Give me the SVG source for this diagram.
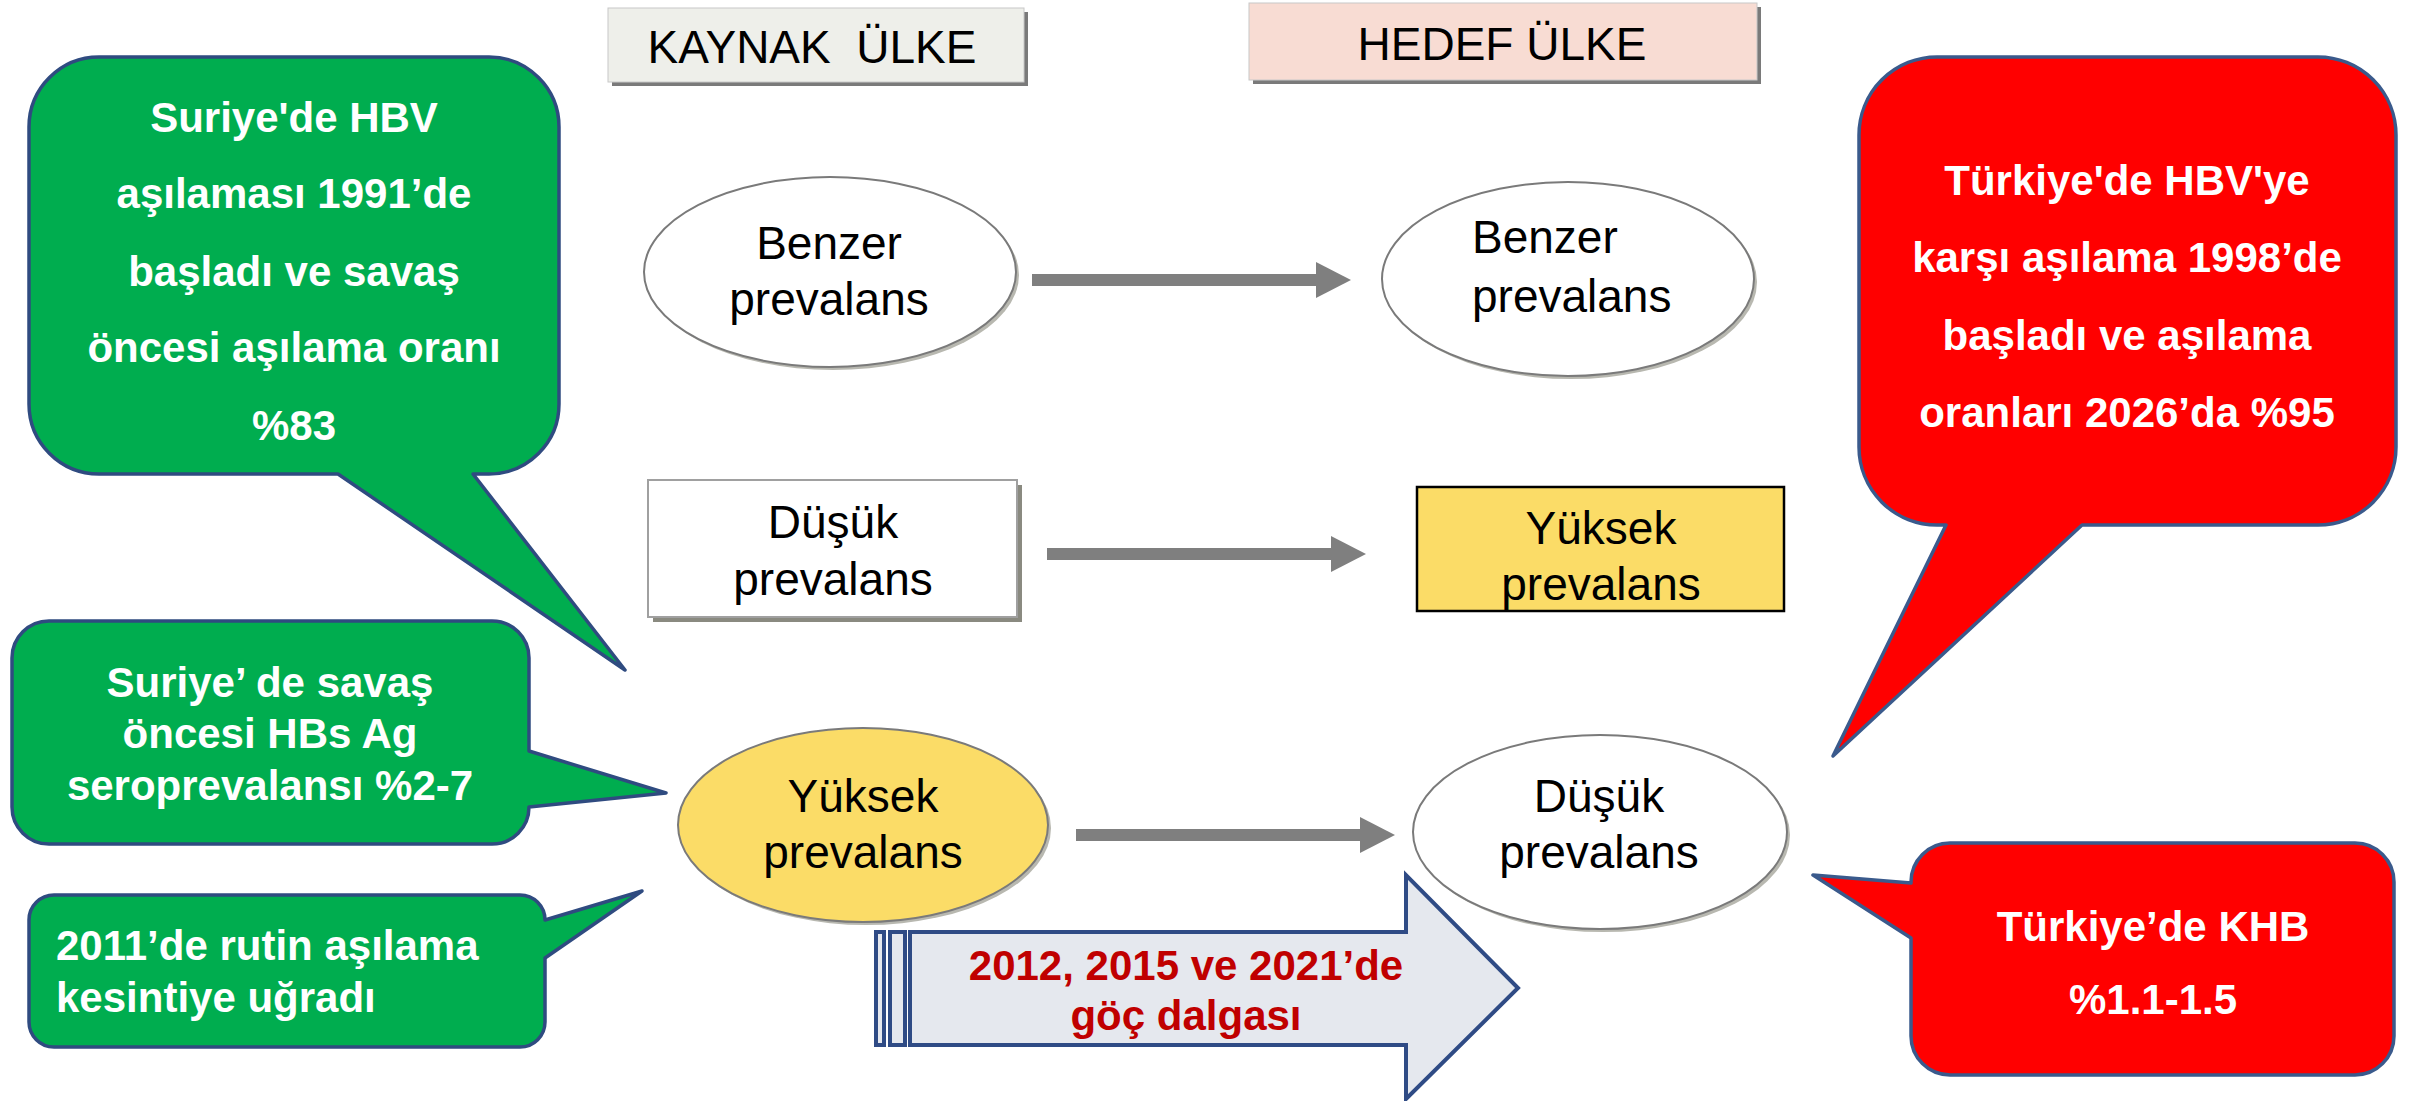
<svg xmlns="http://www.w3.org/2000/svg" width="2415" height="1101" viewBox="0 0 2415 1101">
<defs>
<style>
.node{font-family:"Liberation Sans",Arial,sans-serif;font-size:46px;fill:#000;text-anchor:middle}
.hdr{font-family:"Liberation Sans",Arial,sans-serif;font-size:46px;fill:#000;text-anchor:middle}
.bub{font-family:"Liberation Sans",Arial,sans-serif;font-size:42px;font-weight:bold;fill:#fff;text-anchor:middle}
.green{fill:#00AD4F;stroke:#2F4B80;stroke-width:3.5;stroke-linejoin:round}
.red{fill:#FF0000;stroke:#3A5A8C;stroke-width:3.5;stroke-linejoin:round}
.ell{fill:#fff;stroke:#7A7A7A;stroke-width:2}
.ellY{fill:#FBDC67;stroke:#7A7A7A;stroke-width:2}
.eshadow{fill:#B8B8B0}
.conn{stroke:#7F7F7F;stroke-width:12;fill:none}
.mig{fill:#E5E8EE;stroke:#2F4B85;stroke-width:4}
.migt{font-family:"Liberation Sans",Arial,sans-serif;font-size:42px;font-weight:bold;fill:#C00000;text-anchor:middle}
</style>
<marker id="ah" viewBox="0 0 35 36" refX="1" refY="18" markerWidth="35" markerHeight="36" markerUnits="userSpaceOnUse" orient="auto">
<path d="M0,0 L35,18 L0,36 Z" fill="#7F7F7F"/>
</marker>
</defs>
<rect width="2415" height="1101" fill="#fff"/>

<g id="hdr-kaynak">
<rect x="612" y="12" width="416" height="74" fill="#7A7A7A"/>
<rect x="608" y="8" width="416" height="74" fill="#EEEFEA" stroke="#C8C8C8" stroke-width="1"/>
<text class="hdr" x="812" y="63" xml:space="preserve">KAYNAK  ÜLKE</text>
</g>
<g id="hdr-hedef">
<rect x="1253" y="7" width="508" height="77" fill="#7A7A7A"/>
<rect x="1249" y="3" width="508" height="77" fill="#F8DCD3" stroke="#C8C8C8" stroke-width="1"/>
<text class="hdr" x="1502" y="60">HEDEF ÜLKE</text>
</g>

<g id="connectors">
<line class="conn" x1="1032" y1="280" x2="1317" y2="280" marker-end="url(#ah)"/>
<line class="conn" x1="1047" y1="554" x2="1332" y2="554" marker-end="url(#ah)"/>
<line class="conn" x1="1076" y1="835" x2="1361" y2="835" marker-end="url(#ah)"/>
</g>

<g id="src-benzer">
<ellipse class="eshadow" cx="833" cy="275" rx="186" ry="95"/>
<ellipse class="ell" cx="830" cy="272" rx="186" ry="95"/>
<text class="node" x="829" y="259">Benzer</text>
<text class="node" x="829" y="315">prevalans</text>
</g>
<g id="dst-benzer">
<ellipse class="eshadow" cx="1571" cy="282" rx="186" ry="97"/>
<ellipse class="ell" cx="1568" cy="279" rx="186" ry="97"/>
<text class="node" x="1472" y="253" text-anchor="start" style="text-anchor:start">Benzer</text>
<text class="node" x="1472" y="312" style="text-anchor:start">prevalans</text>
</g>

<g id="src-dusuk">
<rect x="653" y="485" width="369" height="137" fill="#8A8A80"/>
<rect x="648" y="480" width="369" height="137" fill="#fff" stroke="#A0A0A0" stroke-width="2"/>
<text class="node" x="833" y="538">Düşük</text>
<text class="node" x="833" y="595">prevalans</text>
</g>
<g id="dst-yuksek">
<rect x="1417" y="487" width="367" height="124" fill="#FBDC67" stroke="#000" stroke-width="2.5"/>
<text class="node" x="1601" y="544">Yüksek</text>
<text class="node" x="1601" y="600">prevalans</text>
</g>

<g id="src-yuksek">
<ellipse class="eshadow" cx="866" cy="828" rx="185" ry="97"/>
<ellipse class="ellY" cx="863" cy="825" rx="185" ry="97"/>
<text class="node" x="863" y="812">Yüksek</text>
<text class="node" x="863" y="868">prevalans</text>
</g>
<g id="dst-dusuk">
<ellipse class="eshadow" cx="1603" cy="835" rx="187" ry="97"/>
<ellipse class="ell" cx="1600" cy="832" rx="187" ry="97"/>
<text class="node" x="1599" y="812">Düşük</text>
<text class="node" x="1599" y="868">prevalans</text>
</g>

<g id="migration-arrow">
<rect class="mig" x="876" y="932" width="8" height="113" stroke-width="3.5"/>
<rect class="mig" x="890" y="932" width="15" height="113" stroke-width="3.5"/>
<path class="mig" d="M910,932 H1406 V875 L1518,988 L1406,1099 V1045 H910 Z"/>
<text class="migt" x="1186" y="980">2012, 2015 ve 2021’de</text>
<text class="migt" x="1186" y="1030">göç dalgası</text>
</g>

<g id="callout-suriye-asi">
<path class="green" d="M99,57 H489 A70,70 0 0 1 559,127 V404 A70,70 0 0 1 489,474 H473 L625,670 L338,474 H99 A70,70 0 0 1 29,404 V127 A70,70 0 0 1 99,57 Z"/>
<text class="bub" x="294" y="132">Suriye'de HBV</text>
<text class="bub" x="294" y="208">aşılaması 1991’de</text>
<text class="bub" x="294" y="286">başladı ve savaş</text>
<text class="bub" x="294" y="362">öncesi aşılama oranı</text>
<text class="bub" x="294" y="440">%83</text>
</g>

<g id="callout-suriye-hbsag">
<path class="green" d="M49,621 H492 A37,37 0 0 1 529,658 V751 L666,793 L529,807 A37,37 0 0 1 492,844 H49 A37,37 0 0 1 12,807 V658 A37,37 0 0 1 49,621 Z"/>
<text class="bub" x="270" y="697">Suriye’ de savaş</text>
<text class="bub" x="270" y="748">öncesi HBs Ag</text>
<text class="bub" x="270" y="800">seroprevalansı %2-7</text>
</g>

<g id="callout-2011">
<path class="green" d="M54,895 H520 A25,25 0 0 1 545,920 L642,891 L545,958 V1022 A25,25 0 0 1 520,1047 H54 A25,25 0 0 1 29,1022 V920 A25,25 0 0 1 54,895 Z"/>
<text class="bub" x="56" y="960" style="text-anchor:start">2011’de rutin aşılama</text>
<text class="bub" x="56" y="1012" style="text-anchor:start">kesintiye uğradı</text>
</g>

<g id="callout-turkiye-asi">
<path class="red" d="M1937,57 H2318 A78,78 0 0 1 2396,135 V447 A78,78 0 0 1 2318,525 H2082 L1833,756 L1946,525 H1937 A78,78 0 0 1 1859,447 V135 A78,78 0 0 1 1937,57 Z"/>
<text class="bub" x="2127" y="195">Türkiye'de HBV'ye</text>
<text class="bub" x="2127" y="272">karşı aşılama 1998’de</text>
<text class="bub" x="2127" y="350">başladı ve aşılama</text>
<text class="bub" x="2127" y="427">oranları 2026’da %95</text>
</g>

<g id="callout-turkiye-khb">
<path class="red" d="M1950,843 H2355 A39,39 0 0 1 2394,882 V1036 A39,39 0 0 1 2355,1075 H1950 A39,39 0 0 1 1911,1036 V938 L1813,875 L1911,883 V882 A39,39 0 0 1 1950,843 Z"/>
<text class="bub" x="2153" y="941">Türkiye’de KHB</text>
<text class="bub" x="2153" y="1014">%1.1-1.5</text>
</g>
</svg>
